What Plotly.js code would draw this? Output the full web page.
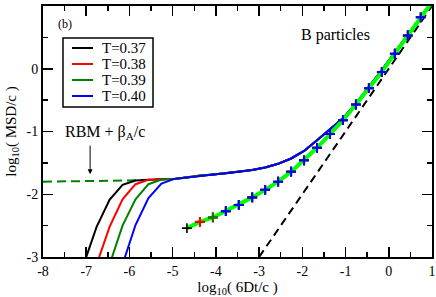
<!DOCTYPE html>
<html>
<head>
<meta charset="utf-8">
<script src="https://cdn.plot.ly/plotly-3.0.1.min.js"></script>
<style>html,body{margin:0;padding:0;background:#fff;}#chart{width:436px;height:297px;}</style>
</head>
<body>
<div id="chart"></div>
<script>
// ---- data (log10 values) ----
const tempLabels = ['T=0.37', 'T=0.38', 'T=0.39', 'T=0.40'];
const tempColors = ['#000000', '#ff0000', '#008000', '#0000ff'];

// early-time part of each MSD curve
const blackX = [-7.06, -6.76, -6.46, -6.16, -5.86, -5.56, -5.26];
const blackY = [-3.12, -2.52, -2.09, -1.85, -1.78, -1.765, -1.76];
const redX   = [-6.76, -6.46, -6.16, -5.86, -5.56, -5.26];
const redY   = [-3.12, -2.52, -2.08, -1.84, -1.77, -1.76];
const greenX = [-6.46, -6.16, -5.86, -5.56, -5.26];
const greenY = [-3.12, -2.50, -2.08, -1.84, -1.765];
const blueX  = [-6.16, -5.86, -5.56, -5.26];
const blueY  = [-3.12, -2.49, -2.06, -1.83];

// common late-time part (all temperatures collapse)
const tailX = [-4.96, -4.66, -4.36, -4.06, -3.76, -3.46, -3.16, -2.86, -2.56, -2.26, -1.96, -1.66, -1.36, -1.06, -0.76, -0.46, -0.16, 0.14, 0.44, 0.74, 1.04];
const tailY = [-1.755, -1.73, -1.70, -1.685, -1.665, -1.645, -1.615, -1.575, -1.515, -1.43, -1.31, -1.14, -0.97, -0.79, -0.555, -0.29, -0.02, 0.26, 0.545, 0.825, 1.10];

// RBM + beta_A/c (dashed green)
const rbmX = [-8, -7.5, -7, -6.5, -6, -5.5, -5.26];
const rbmY = [-1.80, -1.797, -1.793, -1.788, -1.78, -1.768, -1.76];

// lower collapsed curve with + markers
const lowX = [-4.67, -4.37, -4.07, -3.77, -3.47, -3.16, -2.86, -2.56, -2.26, -1.96, -1.66, -1.36, -1.06, -0.76, -0.46, -0.16, 0.14, 0.44, 0.74, 1.04];
const lowY = [-2.54, -2.44, -2.37, -2.27, -2.17, -2.05, -1.93, -1.80, -1.64, -1.46, -1.26, -1.04, -0.82, -0.57, -0.31, -0.05, 0.24, 0.53, 0.82, 1.10];
const markerStart = [0, 1, 2, 3]; // first marker index per temperature
const markerCount = 19;

// slope-1 reference line
const refX = [-3, 1];
const refY = [-3, 1];

// ticks
const xTickVals = [-8, -7, -6, -5, -4, -3, -2, -1, 0, 1];
const xTickText = ['-8', '-7', '-6', '-5', '-4', '-3', '-2', '-1', '0', '1'];
const yTickVals = [-3, -2, -1, 0, 1];
const yTickText = ['-3', '-2', '-1', '0', '1'];

// ---- traces ----
const earlyX = [blackX, redX, greenX, blueX];
const earlyY = [blackY, redY, greenY, blueY];
const traces = [];

traces.push({
  x: rbmX.concat(tailX), y: rbmY.concat(tailY), mode: 'lines', showlegend: false,
  line: {color: '#008000', width: 2, dash: '9px,5px'}, hoverinfo: 'skip'
});

for (let i = 0; i < 4; i++) {
  traces.push({
    x: earlyX[i].concat(tailX), y: earlyY[i].concat(tailY), mode: 'lines',
    name: tempLabels[i], showlegend: false, line: {color: tempColors[i], width: 2}
  });
}

traces.push({
  x: refX, y: refY, mode: 'lines', showlegend: false,
  line: {color: '#000000', width: 2, dash: '8px,5px'}
});

traces.push({
  x: lowX, y: lowY, mode: 'lines', showlegend: false,
  line: {color: '#00ff00', width: 4}
});

for (let i = 0; i < 4; i++) {
  traces.push({
    x: lowX.slice(markerStart[i], markerCount), y: lowY.slice(markerStart[i], markerCount),
    mode: 'markers', showlegend: false,
    marker: {symbol: 'cross-thin', size: 7, line: {color: tempColors[i], width: i === 0 ? 1.6 : 2}, color: tempColors[i]}
  });
}

const serif = 'Liberation Serif, Times New Roman, serif';

// legend box built from the same labels/colours (paper coordinates)
const legBox = {x0: 0.0514, x1: 0.2828, y0: 0.598, y1: 0.8725};
const legRows = [0.8327, 0.7689, 0.7052, 0.6414];
const shapes = [{
  type: 'rect', xref: 'paper', yref: 'paper', x0: legBox.x0, x1: legBox.x1, y0: legBox.y0, y1: legBox.y1,
  line: {color: '#000', width: 1.5}, fillcolor: '#ffffff', layer: 'above'
}];
const annotations = [];
for (let i = 0; i < 4; i++) {
  shapes.push({type: 'line', xref: 'paper', yref: 'paper', x0: 0.0746, x1: 0.1285, y0: legRows[i], y1: legRows[i],
    line: {color: tempColors[i], width: 2}, layer: 'above'});
  annotations.push({xref: 'paper', yref: 'paper', x: 0.1465, y: legRows[i], xanchor: 'left', yanchor: 'middle',
    text: tempLabels[i], showarrow: false, font: {family: serif, size: 15}});
}
annotations.push(
  {x: -7.49, y: 0.71, xref: 'x', yref: 'y', text: '(b)', showarrow: false, font: {family: serif, size: 12}},
  {x: -1.24, y: 0.54, xref: 'x', yref: 'y', text: 'B particles', showarrow: false, font: {family: serif, size: 16}},
  {x: -6.56, y: -1.02, xref: 'x', yref: 'y', text: 'RBM + β<sub>A</sub>/c', showarrow: false, font: {family: serif, size: 16}},
  {x: -6.91, y: -1.68, xref: 'x', yref: 'y', ax: 0, ay: -30, text: '', showarrow: true,
   arrowhead: 2, arrowsize: 1, arrowwidth: 1, arrowcolor: '#000'}
);

const layout = {
  width: 436, height: 297,
  margin: {l: 43, r: 4, t: 6, b: 40},
  paper_bgcolor: '#ffffff', plot_bgcolor: '#ffffff',
  font: {family: serif, color: '#000000', size: 14},
  showlegend: false,
  xaxis: {
    range: [-8, 1], tickvals: xTickVals, ticktext: xTickText,
    ticks: 'inside', ticklen: 10, tickwidth: 1.5, tickcolor: '#000',
    showline: true, linecolor: '#000', linewidth: 2, mirror: 'allticks',
    showgrid: false, zeroline: false,
    tickfont: {family: serif, size: 14},
    minor: {dtick: 0.5, tick0: -8, ticks: 'inside', ticklen: 5, tickwidth: 1.5, tickcolor: '#000', showgrid: false},
    title: {text: 'log<sub>10</sub>( 6Dt/c )', font: {family: serif, size: 15}, standoff: 1}
  },
  yaxis: {
    range: [-3, 1], tickvals: yTickVals, ticktext: yTickText,
    ticks: 'inside', ticklen: 10, tickwidth: 1.5, tickcolor: '#000',
    showline: true, linecolor: '#000', linewidth: 2, mirror: 'allticks',
    showgrid: false, zeroline: false,
    tickfont: {family: serif, size: 14},
    minor: {dtick: 0.5, tick0: -3, ticks: 'inside', ticklen: 5, tickwidth: 1.5, tickcolor: '#000', showgrid: false},
    title: {text: 'log<sub>10</sub>( MSD/c )', font: {family: serif, size: 15}, standoff: 6}
  },
  shapes: shapes,
  annotations: annotations
};

Plotly.newPlot('chart', traces, layout, {staticPlot: true, displayModeBar: false});
</script>
</body>
</html>
